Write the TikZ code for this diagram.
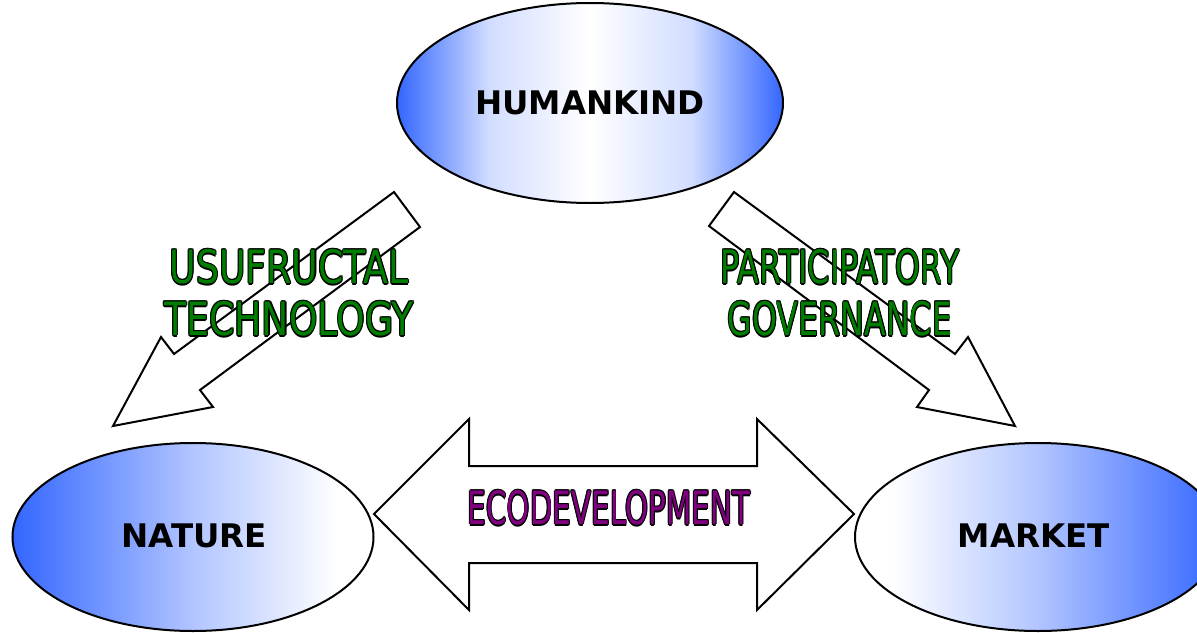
\documentclass[tikz,border=0pt]{standalone}
\usepackage{fontspec}
\usepackage{graphicx}
\setmainfont{DejaVu Sans}
\usetikzlibrary{shapes.geometric}
\definecolor{eblue}{RGB}{51,102,255}
\definecolor{wagreen}{RGB}{0,125,0}
\definecolor{wapurple}{RGB}{128,0,128}
\pgfdeclarehorizontalshading{hkshade}{100bp}{color(0bp)=(eblue); color(25bp)=(eblue); color(37bp)=(eblue!22); color(50bp)=(white); color(63bp)=(eblue!22); color(75bp)=(eblue); color(100bp)=(eblue)}
\pgfdeclarehorizontalshading{ntshade}{100bp}{color(0bp)=(eblue); color(25bp)=(eblue); color(50bp)=(eblue!38); color(70bp)=(white); color(100bp)=(white)}
\pgfdeclarehorizontalshading{mkshade}{100bp}{color(0bp)=(white); color(30bp)=(white); color(50bp)=(eblue!38); color(75bp)=(eblue); color(100bp)=(eblue)}
\newcommand{\outl}[2]{{\setbox0=\hbox{\color{black}#2}%
\rlap{\kern1.3pt\copy0}\rlap{\kern-1.3pt\copy0}\rlap{\raise1.3pt\copy0}\rlap{\lower1.3pt\copy0}%
\rlap{\kern.9pt\raise.9pt\copy0}\rlap{\kern-.9pt\raise.9pt\copy0}\rlap{\kern.9pt\lower.9pt\copy0}\rlap{\kern-.9pt\lower.9pt\copy0}%
\textcolor{#1}{#2}}}
\tikzset{
  oval/.style={ellipse, draw=black, line width=2pt, inner sep=0pt},
  lbl/.style={font=\fontsize{32.5}{36}\selectfont\bfseries},
  blockarrow/.style={draw=black, line width=2pt, fill=white, line join=miter},
  watext/.style={font=\fontsize{46}{52}\selectfont, align=center, inner sep=0pt}
}
\begin{document}
\begin{tikzpicture}[x=1pt,y=-1pt]
\useasboundingbox (0,0) rectangle (1197,632);
% ellipses
\node[oval, lbl, minimum width=386, minimum height=200, shading=hkshade] (human) at (590,103) {HUMANKIND};
\node[oval, minimum width=361, minimum height=188, shading=ntshade] (nature) at (193,537) {};
\node[oval, minimum width=366, minimum height=188, shading=mkshade] (market) at (1038,537) {};
\node[lbl] (naturelbl) at (194,536) {NATURE};
\node[lbl] (marketlbl) at (1034,536) {MARKET};
% block arrows
\draw[blockarrow] (394,192) -- (174,354) -- (161,337) -- (113,426) -- (213,407) -- (200,390) -- (420,227) -- cycle;
\draw[blockarrow] (734,192) -- (955,354) -- (968,337) -- (1015,426) -- (917,407) -- (929,390) -- (709,226) -- cycle;
\draw[blockarrow] (374,514) -- (469,419) -- (469,466) -- (757,466) -- (757,419) -- (854,514)
  -- (757,610) -- (757,563) -- (469,563) -- (469,610) -- cycle;
% WordArt texts
\node[watext] (usu) at (289,293) {\scalebox{0.79}[1]{\outl{wagreen}{USUFRUCTAL}}\\\scalebox{0.79}[1]{\outl{wagreen}{TECHNOLOGY}}};
\node[watext] (part) at (840,293) {\scalebox{0.69}[1]{\outl{wagreen}{PARTICIPATORY}}\\\scalebox{0.69}[1]{\outl{wagreen}{GOVERNANCE}}};
\node[watext] (eco) at (609,508) {\scalebox{0.64}[1]{\outl{wapurple}{ECODEVELOPMENT}}};
\end{tikzpicture}
\end{document}
